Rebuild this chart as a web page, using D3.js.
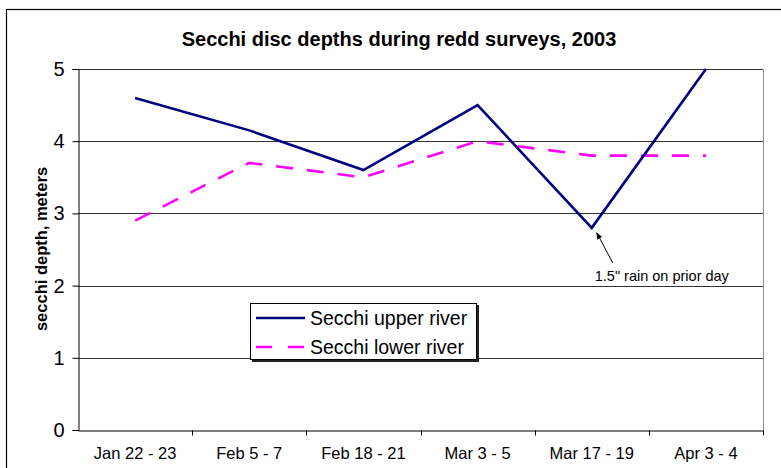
<!DOCTYPE html>
<html><head><meta charset="utf-8">
<script src="https://cdn.jsdelivr.net/npm/d3@7"></script>
<style>body{margin:0;background:#fff;} svg{display:block;font-family:Arial,"Liberation Sans",sans-serif;}</style>
</head><body>
<svg id="c" width="781" height="468"></svg>
<script>
const categories = ["Jan 22 - 23","Feb 5 - 7","Feb 18 - 21","Mar 3 - 5","Mar 17 - 19","Apr 3 - 4"];
const upperRiver = [4.6, 4.15, 3.6, 4.5, 2.8, 5.0];
const lowerRiver = [2.9, 3.7, 3.5, 4.0, 3.8, 3.8];
const yTicks = [0,1,2,3,4,5];
const seriesNames = ["Secchi upper river","Secchi lower river"];

const svg = d3.select("#c");
const m = {l:78, r:763, t:69, b:430};
// outer frame
svg.append("rect").attr("x",6.5).attr("y",9.5).attr("width",800).attr("height",500)
  .attr("fill","none").attr("stroke","#000").attr("stroke-width",1.2);

const x = d3.scaleBand().domain(categories).range([m.l,m.r]);
const y = d3.scaleLinear().domain([0,5]).range([m.b,m.t]);

// plot border right/top
svg.append("path").attr("d",`M${m.l},${m.t}.5H${m.r}.5V${m.b}`).attr("fill","none").attr("stroke","#909090");
// gridlines
svg.append("g").selectAll("line").data(yTicks.filter(d=>d>0)).join("line")
  .attr("x1",m.l).attr("x2",m.r).attr("y1",d=>Math.round(y(d))+0.5).attr("y2",d=>Math.round(y(d))+0.5)
  .attr("stroke","#333").attr("stroke-width",1);

// y axis
const ya = svg.append("g").attr("transform",`translate(${m.l}.5,0)`)
  .call(d3.axisLeft(y).tickValues(yTicks).tickSize(6).tickPadding(8).tickFormat(d3.format("d")));
ya.select(".domain").attr("stroke","#000");
ya.selectAll("text").attr("font-size","20px").attr("fill","#000").attr("font-family","Arial, Liberation Sans, sans-serif");

// x axis
const xa = svg.append("g").attr("transform",`translate(0,${m.b}.5)`)
  .call(d3.axisBottom(x).tickSize(0).tickPadding(17));
xa.select(".domain").attr("stroke","#000");
xa.selectAll("text").attr("font-size","16.5px").attr("fill","#000").attr("font-family","Arial, Liberation Sans, sans-serif");
// boundary ticks
xa.append("g").selectAll("line").data(categories).join("line")
  .attr("x1",d=>Math.round(x(d)+x.bandwidth())+0.5).attr("x2",d=>Math.round(x(d)+x.bandwidth())+0.5)
  .attr("y1",0).attr("y2",5).attr("stroke","#000");

// lines
const line = d3.line().x((d,i)=>x(categories[i])+x.bandwidth()/2).y(d=>y(d));
svg.append("path").datum(lowerRiver).attr("d",line).attr("fill","none")
  .attr("stroke","#ff00ff").attr("stroke-width",2.6).attr("stroke-dasharray","17,14");
svg.append("path").datum(upperRiver).attr("d",line).attr("fill","none")
  .attr("stroke","#000080").attr("stroke-width",2.6).attr("stroke-linejoin","miter");

// title
svg.append("text").attr("x",399).attr("y",46).attr("text-anchor","middle")
  .attr("font-size","20px").attr("font-weight","bold").text("Secchi disc depths during redd surveys, 2003");
// y title
svg.append("text").attr("transform","translate(47,249) rotate(-90)").attr("text-anchor","middle")
  .attr("font-size","16.5px").attr("font-weight","bold").text("secchi depth, meters");

// annotation
const ax = x(categories[4])+x.bandwidth()/2, ay = y(upperRiver[4]);
svg.append("defs").append("marker").attr("id","ah").attr("viewBox","0 0 10 10").attr("refX",9).attr("refY",5)
  .attr("markerWidth",7).attr("markerHeight",7).attr("orient","auto")
  .append("path").attr("d","M0,1L10,5L0,9z").attr("fill","#000");
svg.append("line").attr("x1",ax+21).attr("y1",ay+35).attr("x2",ax+5).attr("y2",ay+5)
  .attr("stroke","#000").attr("stroke-width",1).attr("marker-end","url(#ah)");
svg.append("text").attr("x",ax+3).attr("y",ay+53).attr("font-size","14.5px").text("1.5\" rain on prior day");

// legend
const lg = svg.append("g");
lg.append("rect").attr("x",252).attr("y",305).attr("width",227).attr("height",57).attr("fill","#222");
lg.append("rect").attr("x",250.5).attr("y",303.5).attr("width",226).attr("height",56).attr("fill","#fff").attr("stroke","#000");
const ls = [{c:"#000080",d:null},{c:"#ff00ff",d:"16,16"}];
seriesNames.forEach((n,i)=>{
  const yy = 318 + i*29;
  lg.append("line").attr("x1",256).attr("x2",305).attr("y1",yy).attr("y2",yy)
    .attr("stroke",ls[i].c).attr("stroke-width",2.6).attr("stroke-dasharray",ls[i].d);
  lg.append("text").attr("x",310).attr("y",yy+7).attr("font-size","19.5px").text(n);
});
</script>
</body></html>
